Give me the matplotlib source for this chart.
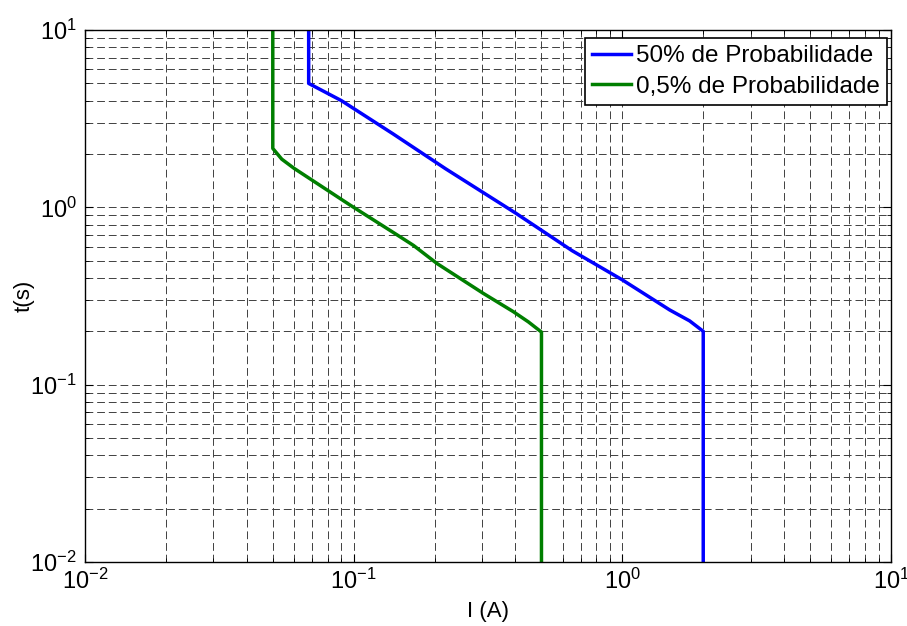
# Curvas I x t (log-log)

import matplotlib.pyplot as plt
from matplotlib.ticker import LogLocator, NullFormatter

plt.rcParams['font.family'] = ['Liberation Sans', 'DejaVu Sans']
plt.rcParams['mathtext.fontset'] = 'custom'
plt.rcParams['mathtext.rm'] = 'Liberation Sans'
plt.rcParams['mathtext.it'] = 'Liberation Sans'
plt.rcParams['mathtext.default'] = 'regular'

# 50% de probabilidade
i_50 = [0.068, 0.068, 0.09, 0.14, 0.22, 0.40, 0.65, 1.0, 1.5, 1.78, 2.0, 2.0]
t_50 = [10, 5.0, 4.0, 2.6, 1.65, 0.93, 0.57, 0.39, 0.264, 0.229, 0.2, 0.01]

# 0,5% de probabilidade
i_05 = [0.05, 0.05, 0.054, 0.06, 0.097, 0.145, 0.167, 0.204, 0.304, 0.393, 0.447, 0.5, 0.5]
t_05 = [10, 2.15, 1.87, 1.66, 1.03, 0.70, 0.61, 0.483, 0.327, 0.258, 0.226, 0.198, 0.01]

labels = ['50% de Probabilidade', '0,5% de Probabilidade']

fig = plt.figure(figsize=(9.07, 6.26), dpi=100)
ax = fig.add_axes([0.0937, 0.1022, 0.8887, 0.8498])

ax.loglog(i_50, t_50, color='#0000ff', linewidth=2.5, label=labels[0])
ax.loglog(i_05, t_05, color='#007f00', linewidth=2.5, label=labels[1])

ax.set_xlim(1e-2, 1e1)
ax.set_ylim(1e-2, 1e1)

for axis in (ax.xaxis, ax.yaxis):
    axis.set_major_locator(LogLocator(base=10, numticks=10))
    axis.set_minor_locator(LogLocator(base=10, subs=range(2, 10), numticks=10))
    axis.set_minor_formatter(NullFormatter())

ax.grid(True, which='both', linestyle=(0, (8, 4)), color='0.25', linewidth=0.7)
ax.tick_params(which='both', direction='in', top=True, right=True, labelsize=17)
ax.tick_params(axis='x', which='major', pad=5)
ax.tick_params(axis='y', which='major', pad=6)
ax.tick_params(which='major', length=6)
ax.tick_params(which='minor', length=3)
for s in ax.spines.values():
    s.set_linewidth(1.0)

ax.set_xlabel('I (A)', fontsize=16, labelpad=5)
ax.set_ylabel('t(s)', fontsize=16, labelpad=-3)

leg = ax.legend(loc='upper right', bbox_to_anchor=(1 - 4 / 806, 1 - 8 / 532),
                fontsize=17.5, fancybox=False, framealpha=1,
                edgecolor='black', handlelength=1.6, handletextpad=0.2,
                borderpad=0.3, labelspacing=0.35, borderaxespad=0)
leg.get_frame().set_linewidth(1.2)

plt.savefig('out.png', dpi=100)
